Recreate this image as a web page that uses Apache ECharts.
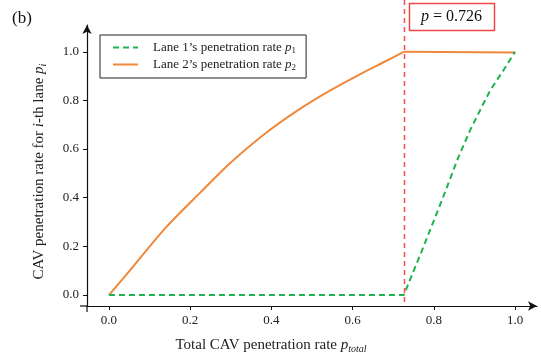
<!DOCTYPE html>
<html>
<head>
<meta charset="utf-8">
<script src="https://cdn.jsdelivr.net/npm/echarts@6/dist/echarts.min.js"></script>
<style>
  html, body { margin: 0; padding: 0; background: #fff; }
  #chart { width: 541px; height: 357px; }
</style>
</head>
<body>
<div id="chart"></div>
<script>
// data
const lane1X = [0, 0.726, 0.77, 0.82, 0.86, 0.89, 0.92, 0.94, 0.97, 1.0];
const lane1Y = [0, 0, 0.18, 0.39, 0.565, 0.68, 0.78, 0.845, 0.92, 1.0];
const lane2X = [0, 0.06, 0.142, 0.224, 0.298, 0.38, 0.462, 0.544, 0.626, 0.68, 0.726];
const lane2Y = [0, 0.118, 0.281, 0.42, 0.542, 0.658, 0.756, 0.84, 0.914, 0.96, 1.0];
const lane2FlatX = [0.726, 1.0];
const lane2FlatY = [1.0, 0.997];
const xTicks = [0, 0.2, 0.4, 0.6, 0.8, 1.0];
const yTicks = [0, 0.2, 0.4, 0.6, 0.8, 1.0];
const pCrit = 0.726;

const serif = 'Liberation Serif';
const pair = (xs, ys) => xs.map((x, i) => [x, ys[i]]);
const xMin = -0.054, xMax = 1.054, yMin = -0.045, yMax = 1.11;

const chart = echarts.init(document.getElementById('chart'));

const option = {
  animation: false,
  grid: { left: 87, right: 4, top: 25, bottom: 51, outerBoundsMode: 'none', containLabel: false },
  legend: {
    orient: 'vertical',
    left: 100,
    top: 35,
    data: ['Lane 1', 'Lane 2'],
    borderColor: '#222',
    borderWidth: 1,
    borderRadius: 0,
    padding: [6, 10, 6, 12],
    itemGap: 3,
    itemWidth: 25,
    itemHeight: 12,
    itemStyle: { opacity: 0 },
    formatter: name => name + '\u2019s penetration rate {i|p}{s|' + name.slice(-1) + '}',
    textStyle: {
      fontFamily: serif,
      fontSize: 13,
      color: '#222',
      padding: [0, 0, 0, 10],
      rich: {
        i: { fontFamily: serif, fontStyle: 'italic', fontSize: 13, color: '#222' },
        s: { fontFamily: serif, fontSize: 9, color: '#222', verticalAlign: 'bottom', padding: [6, 0, 0, 0] }
      }
    }
  },
  xAxis: {
    type: 'value',
    min: xMin,
    max: xMax,
    name: 'Total CAV penetration rate {i|p}{s|total}',
    nameLocation: 'middle',
    nameGap: 30,
    nameTextStyle: {
      fontFamily: serif, fontSize: 15, color: '#222',
      padding: [0, 82, 0, 0],
      rich: {
        i: { fontFamily: serif, fontStyle: 'italic', fontSize: 15, color: '#222' },
        s: { fontFamily: serif, fontStyle: 'italic', fontSize: 10, color: '#222', verticalAlign: 'bottom', padding: [8, 0, 0, 0] }
      }
    },
    splitLine: { show: false },
    axisLine: { onZero: false, lineStyle: { color: '#111', width: 1.2 }, symbol: ['none', 'arrow'], symbolSize: [7, 9] },
    axisTick: { show: true, length: 4, customValues: xTicks, lineStyle: { color: '#111' } },
    axisLabel: {
      customValues: xTicks,
      formatter: v => v.toFixed(1),
      fontFamily: serif, fontSize: 13, color: '#222', margin: 8
    }
  },
  yAxis: {
    type: 'value',
    min: yMin,
    max: yMax,
    name: 'CAV penetration rate for {i|i}-th lane {i|p}{s|i}',
    nameLocation: 'middle',
    nameGap: 39,
    nameTextStyle: {
      fontFamily: serif, fontSize: 15, color: '#222',
      padding: [0, 12, 0, 0],
      rich: {
        i: { fontFamily: serif, fontStyle: 'italic', fontSize: 15, color: '#222' },
        s: { fontFamily: serif, fontStyle: 'italic', fontSize: 10, color: '#222', verticalAlign: 'bottom', padding: [8, 0, 0, 0] }
      }
    },
    splitLine: { show: false },
    axisLine: { show: true, onZero: false, lineStyle: { color: '#111', width: 1.2 }, symbol: ['none', 'arrow'], symbolSize: [7, 9] },
    axisTick: { show: true, length: 4, customValues: yTicks, lineStyle: { color: '#111' } },
    axisLabel: {
      customValues: yTicks,
      formatter: v => v.toFixed(1),
      fontFamily: serif, fontSize: 13, color: '#222', margin: 8
    }
  },
  series: [
    {
      name: 'Lane 1',
      type: 'line',
      data: pair(lane1X, lane1Y),
      symbol: 'none',
      color: '#1db34f',
      lineStyle: { color: '#1db34f', width: 2, type: [6, 4] },
      z: 3
    },
    {
      name: 'Lane 2',
      type: 'line',
      data: pair(lane2X, lane2Y),
      symbol: 'none',
      smooth: 0.3,
      color: '#f0883c',
      lineStyle: { color: '#f0883c', width: 2 },
      z: 2
    },
    {
      name: 'Lane 2',
      type: 'line',
      data: pair(lane2FlatX, lane2FlatY),
      symbol: 'none',
      color: '#f0883c',
      lineStyle: { color: '#f0883c', width: 2 },
      z: 2
    }
  ]
};

chart.setOption(option);

// red threshold line, annotation box and axis stubs, placed through the scales
const xc = Math.round(chart.convertToPixel({ xAxisIndex: 0 }, pCrit)) + 0.5;
const xLeft = chart.convertToPixel({ xAxisIndex: 0 }, xMin);
const yBottom = chart.convertToPixel({ yAxisIndex: 0 }, yMin);
chart.setOption({
  graphic: [
    {
      type: 'text',
      left: 12,
      top: 10,
      style: { text: '(b)', fontFamily: serif, fontSize: 17, fill: '#111' }
    },
    {
      type: 'line',
      shape: { x1: xLeft - 7, y1: yBottom, x2: xLeft, y2: yBottom },
      style: { stroke: '#111', lineWidth: 1.2 }
    },
    {
      type: 'line',
      shape: { x1: xLeft, y1: yBottom, x2: xLeft, y2: yBottom + 6 },
      style: { stroke: '#111', lineWidth: 1.2 }
    },
    {
      type: 'line',
      shape: { x1: xc, y1: 0, x2: xc, y2: yBottom },
      style: { stroke: '#ff4b4b', lineWidth: 1.5, lineDash: [5, 4] },
      z: 5
    },
    {
      type: 'rect',
      shape: { x: xc + 5, y: 3.5, width: 85, height: 27 },
      style: { fill: '#fff', stroke: '#f04848', lineWidth: 1.5 },
      z: 5
    },
    {
      type: 'text',
      x: xc + 47,
      y: 17,
      style: {
        text: '{i|p} = 0.726',
        align: 'center',
        verticalAlign: 'middle',
        fontFamily: serif,
        fontSize: 16,
        fill: '#111',
        rich: {
          i: { fontFamily: serif, fontStyle: 'italic', fontSize: 16, fill: '#111' }
        }
      },
      z: 6
    }
  ]
});
</script>
</body>
</html>
